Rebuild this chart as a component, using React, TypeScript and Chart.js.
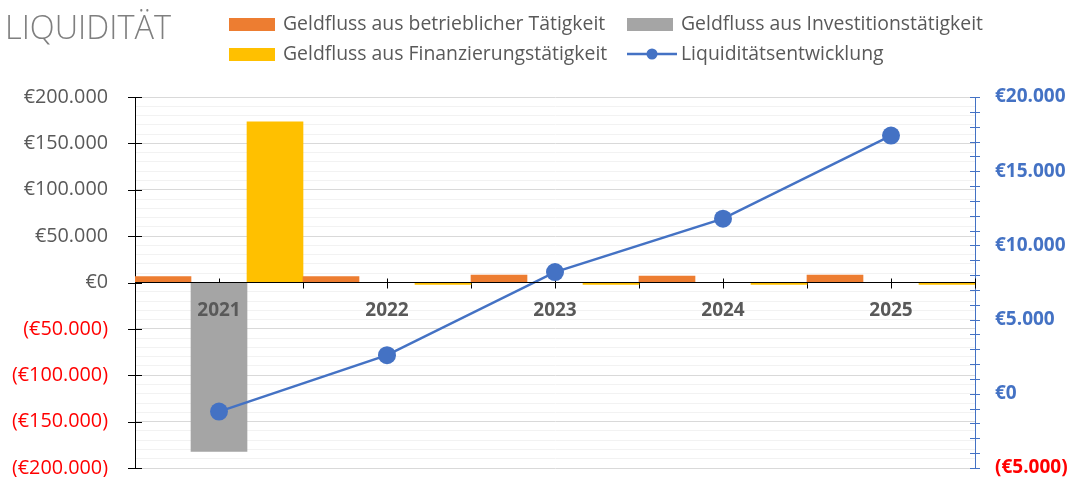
import React, { useEffect, useRef } from 'react';
import { Chart, registerables } from 'chart.js';

Chart.register(...registerables);

const chartTitle = 'LIQUIDITÄT';
const years = ['2021', '2022', '2023', '2024', '2025'];
const seriesNames = [
  'Geldfluss aus betrieblicher Tätigkeit',
  'Geldfluss aus Investitionstätigkeit',
  'Geldfluss aus Finanzierungstätigkeit',
  'Liquiditätsentwicklung',
];
const operating = [6500, 6500, 8000, 6800, 8000];
const investing = [-182000, 0, 0, 0, 0];
const financing = [173300, -2000, -2000, -2000, -2000];
const liquidity = [-1200, 2600, 8200, 11800, 17400];

const leftMin = -200000;
const leftMax = 200000;
const leftMajor = 50000;
const leftMinor = 10000;
const rightMin = -5000;
const rightMax = 20000;
const rightMajor = 5000;
const rightMinor = 1000;

const COLORS = {
  orange: '#ED7D31',
  gray: '#A5A5A5',
  yellow: '#FFC000',
  blue: '#4472C4',
  text: '#595959',
  red: '#FF0000',
};
const FONT = "'Open Sans', sans-serif";

const fmt = (v: number) => {
  const s = '€' + String(Math.abs(v)).replace(/\B(?=(\d{3})+(?!\d))/g, '.');
  return v < 0 ? `(${s})` : s;
};

const decor = {
  id: 'decor',
  beforeDatasetsDraw(chart: any) {
    const { ctx, chartArea, scales } = chart;
    const y = scales.y;
    const y1 = scales.y1;
    const line = (x1: number, y1_: number, x2: number, y2: number) => {
      ctx.beginPath();
      ctx.moveTo(x1, y1_);
      ctx.lineTo(x2, y2);
      ctx.stroke();
    };
    ctx.save();
    ctx.lineWidth = 1;
    ctx.strokeStyle = '#000';
    for (let v = leftMin; v <= leftMax; v += leftMajor) {
      const py = Math.round(y.getPixelForValue(v)) + 0.5;
      line(chartArea.left - 7, py, chartArea.left + 7, py);
    }
    const zero = Math.round(y.getPixelForValue(0)) + 0.5;
    const w = (chartArea.right - chartArea.left) / years.length;
    for (let i = 0; i <= years.length * 2; i++) {
      const px = Math.round(chartArea.left + (i * w) / 2) + 0.5;
      line(px, zero - 5, px, zero + 5);
    }
    ctx.strokeStyle = COLORS.blue;
    for (let v = rightMin; v <= rightMax; v += rightMinor) {
      const py = Math.round(y1.getPixelForValue(v)) + 0.5;
      line(chartArea.right - 5, py, chartArea.right + 5, py);
    }
    ctx.restore();
  },
  afterDraw(chart: any) {
    const { ctx } = chart;
    ctx.save();
    ctx.textBaseline = 'middle';
    ctx.textAlign = 'left';
    ctx.fillStyle = '#7F7F7F';
    ctx.font = `300 32.5px ${FONT}`;
    ctx.fillText(chartTitle, 5, 30);

    ctx.font = `19.4px ${FONT}`;
    const items = [
      { x: 229, y: 24, color: COLORS.orange, type: 'box', label: seriesNames[0] },
      { x: 627, y: 24, color: COLORS.gray, type: 'box', label: seriesNames[1] },
      { x: 229, y: 54, color: COLORS.yellow, type: 'box', label: seriesNames[2] },
      { x: 627, y: 54, color: COLORS.blue, type: 'line', label: seriesNames[3] },
    ];
    for (const it of items) {
      if (it.type === 'box') {
        ctx.fillStyle = it.color;
        ctx.fillRect(it.x, it.y - 6, 46, 13);
      } else {
        ctx.strokeStyle = it.color;
        ctx.lineWidth = 2.5;
        ctx.beginPath();
        ctx.moveTo(it.x, it.y);
        ctx.lineTo(it.x + 50, it.y);
        ctx.stroke();
        ctx.fillStyle = it.color;
        ctx.beginPath();
        ctx.arc(it.x + 25, it.y, 5.5, 0, Math.PI * 2);
        ctx.fill();
      }
      ctx.fillStyle = COLORS.text;
      ctx.fillText(it.label, it.x + 54, it.y);
    }
    ctx.restore();
  },
};

export default function App() {
  const ref = useRef<HTMLCanvasElement | null>(null);
  useEffect(() => {
    if (!ref.current) return;
    const chart = new Chart(ref.current, {
      type: 'bar',
      data: {
        labels: years,
        datasets: [
          { type: 'bar', label: seriesNames[0], data: operating, backgroundColor: COLORS.orange, yAxisID: 'y', categoryPercentage: 1, barPercentage: 1, order: 1 },
          { type: 'bar', label: seriesNames[1], data: investing, backgroundColor: COLORS.gray, yAxisID: 'y', categoryPercentage: 1, barPercentage: 1, order: 1 },
          { type: 'bar', label: seriesNames[2], data: financing, backgroundColor: COLORS.yellow, yAxisID: 'y', categoryPercentage: 1, barPercentage: 1, order: 1 },
          {
            type: 'line', label: seriesNames[3], data: liquidity, yAxisID: 'y1', order: 0,
            borderColor: COLORS.blue, backgroundColor: COLORS.blue, borderWidth: 2.5,
            pointRadius: 9, pointBackgroundColor: COLORS.blue, pointBorderWidth: 0, tension: 0,
          },
        ] as any,
      },
      options: {
        responsive: true,
        maintainAspectRatio: false,
        animation: false,
        layout: { padding: { top: 97, bottom: 9, left: 0, right: 0 } },
        plugins: { legend: { display: false }, title: { display: false }, tooltip: { enabled: false } },
        scales: {
          x: {
            type: 'category',
            position: { y: 0 } as any,
            offset: true,
            grid: { display: false, drawTicks: false },
            border: { display: true, color: '#000', width: 1, z: 1 },
            ticks: { z: 1, font: { family: FONT, size: 19, weight: 'bold' }, color: COLORS.text, padding: 17, maxRotation: 0 },
          },
          y: {
            position: 'left',
            min: leftMin,
            max: leftMax,
            ticks: {
              stepSize: leftMinor,
              autoSkip: false,
              padding: 27,
              font: { family: FONT, size: 19.8 },
              color: (c: any) => (c.tick.value < 0 ? COLORS.red : COLORS.text),
              callback: (v: any) => (Number(v) % leftMajor === 0 ? fmt(Number(v)) : ''),
            },
            grid: {
              drawTicks: false,
              color: (c: any) => (c.tick && c.tick.value % leftMajor === 0 ? '#D9D9D9' : '#F2F2F2'),
            },
            border: { color: '#000', width: 1 },
            afterFit: (s: any) => { s.width = 135; s.paddingTop = 0; s.paddingBottom = 0; },
          },
          y1: {
            position: 'right',
            min: rightMin,
            max: rightMax,
            ticks: {
              stepSize: rightMajor,
              padding: 20,
              font: { family: FONT, size: 19, weight: 'bold' },
              color: (c: any) => (c.tick.value < 0 ? COLORS.red : COLORS.blue),
              callback: (v: any) => fmt(Number(v)),
            },
            grid: { drawOnChartArea: false, drawTicks: false },
            border: { color: COLORS.blue, width: 1 },
            afterFit: (s: any) => { s.width = 101; s.paddingTop = 0; s.paddingBottom = 0; },
          },
        } as any,
      },
      plugins: [decor],
    });
    return () => chart.destroy();
  }, []);
  return (
    <div style={{ position: 'absolute', left: 0, top: 0, width: 1076, height: 477 }}>
      <canvas ref={ref} />
    </div>
  );
}
